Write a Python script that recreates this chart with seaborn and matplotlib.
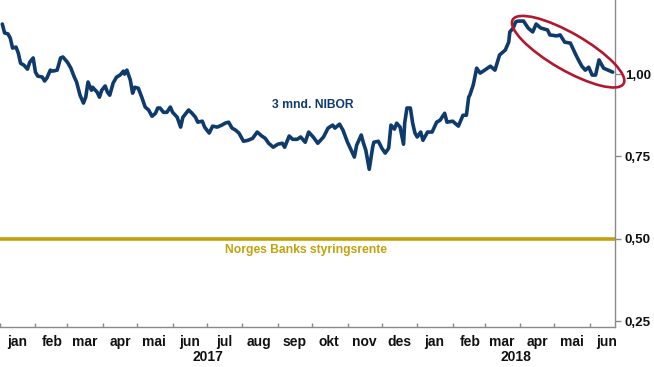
import matplotlib
matplotlib.use("Agg")
import matplotlib.pyplot as plt
import matplotlib.dates as mdates
from matplotlib.patches import Ellipse
from matplotlib.transforms import IdentityTransform, blended_transform_factory
from matplotlib.ticker import FuncFormatter, FixedLocator
import seaborn as sns
import pandas as pd

# ---------------- data ----------------
nibor_dates = [
    "2017-01-03", "2017-01-05", "2017-01-08", "2017-01-10", "2017-01-12", "2017-01-15",
    "2017-01-17", "2017-01-19", "2017-01-22", "2017-01-25", "2017-01-27", "2017-01-30",
    "2017-02-01", "2017-02-03", "2017-02-07", "2017-02-09", "2017-02-11", "2017-02-14",
    "2017-02-16", "2017-02-20", "2017-02-23", "2017-02-25", "2017-03-01", "2017-03-04",
    "2017-03-07", "2017-03-09", "2017-03-12", "2017-03-15", "2017-03-17", "2017-03-19",
    "2017-03-22", "2017-03-23", "2017-03-27", "2017-03-29", "2017-03-31", "2017-04-03",
    "2017-04-05", "2017-04-07", "2017-04-10", "2017-04-13", "2017-04-16", "2017-04-19",
    "2017-04-20", "2017-04-22", "2017-04-25", "2017-04-27", "2017-04-29", "2017-05-02",
    "2017-05-05", "2017-05-08", "2017-05-11", "2017-05-14", "2017-05-17", "2017-05-19",
    "2017-05-21", "2017-05-24", "2017-05-27", "2017-05-30", "2017-06-01", "2017-06-05",
    "2017-06-08", "2017-06-10", "2017-06-15", "2017-06-18", "2017-06-21", "2017-06-23",
    "2017-06-27", "2017-06-29", "2017-07-03", "2017-07-06", "2017-07-10", "2017-07-14",
    "2017-07-17", "2017-07-20", "2017-07-23", "2017-07-26", "2017-07-29", "2017-08-02",
    "2017-08-06", "2017-08-10", "2017-08-14", "2017-08-18", "2017-08-21", "2017-08-24",
    "2017-08-28", "2017-09-01", "2017-09-05", "2017-09-07", "2017-09-11", "2017-09-14",
    "2017-09-18", "2017-09-21", "2017-09-25", "2017-09-28", "2017-10-02", "2017-10-06",
    "2017-10-11", "2017-10-15", "2017-10-19", "2017-10-21", "2017-10-25", "2017-10-28",
    "2017-11-01", "2017-11-03", "2017-11-07", "2017-11-09", "2017-11-13", "2017-11-15",
    "2017-11-17", "2017-11-20", "2017-11-23", "2017-11-24", "2017-11-28", "2017-12-01",
    "2017-12-04", "2017-12-07", "2017-12-09", "2017-12-12", "2017-12-14", "2017-12-17",
    "2017-12-20", "2017-12-21", "2017-12-23", "2017-12-26", "2017-12-28", "2017-12-30",
    "2018-01-01", "2018-01-04", "2018-01-06", "2018-01-10", "2018-01-14", "2018-01-18",
    "2018-01-21", "2018-01-25", "2018-01-27", "2018-02-01", "2018-02-03", "2018-02-06",
    "2018-02-10", "2018-02-13", "2018-02-15", "2018-02-16", "2018-02-19", "2018-02-22",
    "2018-02-25", "2018-03-01", "2018-03-06", "2018-03-10", "2018-03-14", "2018-03-19",
    "2018-03-22", "2018-03-23", "2018-03-26", "2018-03-28", "2018-03-30", "2018-04-04",
    "2018-04-08", "2018-04-12", "2018-04-15", "2018-04-19", "2018-04-25", "2018-04-27",
    "2018-05-03", "2018-05-06", "2018-05-10", "2018-05-15", "2018-05-19", "2018-05-22",
    "2018-05-25", "2018-05-28", "2018-05-31", "2018-06-03", "2018-06-06", "2018-06-09",
    "2018-06-13", "2018-06-17", "2018-06-21",
]
nibor_values = [
    1.152, 1.125, 1.122, 1.109, 1.079, 1.082, 1.064, 1.033, 1.027, 1.015, 1.036, 1.049,
    1.006, 0.994, 0.991, 0.979, 0.988, 1.012, 1.009, 1.012, 1.049, 1.052, 1.036, 1.018,
    0.991, 0.976, 0.936, 0.912, 0.930, 0.976, 0.951, 0.960, 0.945, 0.930, 0.951, 0.964,
    0.945, 0.936, 0.973, 0.991, 0.997, 1.009, 1.000, 1.012, 0.982, 0.942, 0.960, 0.957,
    0.930, 0.900, 0.891, 0.872, 0.881, 0.897, 0.897, 0.884, 0.884, 0.900, 0.884, 0.869,
    0.839, 0.869, 0.891, 0.881, 0.869, 0.854, 0.857, 0.839, 0.821, 0.842, 0.839, 0.845,
    0.851, 0.854, 0.836, 0.830, 0.821, 0.796, 0.799, 0.805, 0.824, 0.812, 0.805, 0.790,
    0.778, 0.787, 0.790, 0.778, 0.812, 0.802, 0.802, 0.809, 0.793, 0.824, 0.809, 0.790,
    0.809, 0.836, 0.845, 0.836, 0.848, 0.830, 0.793, 0.778, 0.748, 0.784, 0.815, 0.790,
    0.769, 0.711, 0.778, 0.793, 0.796, 0.775, 0.760, 0.775, 0.845, 0.833, 0.851, 0.839,
    0.787, 0.851, 0.897, 0.897, 0.851, 0.821, 0.809, 0.824, 0.799, 0.824, 0.824, 0.854,
    0.860, 0.881, 0.854, 0.857, 0.851, 0.842, 0.875, 0.875, 0.930, 0.936, 0.967, 1.018,
    1.003, 1.012, 1.024, 1.012, 1.058, 1.073, 1.097, 1.128, 1.140, 1.158, 1.161, 1.161,
    1.140, 1.128, 1.152, 1.140, 1.134, 1.119, 1.116, 1.119, 1.097, 1.094, 1.064, 1.043,
    1.024, 1.012, 1.021, 0.997, 0.997, 1.043, 1.018, 1.012, 1.006,
]
policy_dates = ["2017-01-01", "2018-06-23"]
policy_values = [0.50, 0.50]

month_labels = ["jan", "feb", "mar", "apr", "mai", "jun",
                "jul", "aug", "sep", "okt", "nov", "des"]
year_labels = ["2017", "2018"]
year_centers = ["2017-07-02", "2018-03-28"]
y_ticks = [0.25, 0.50, 0.75, 1.00, 1.25]

nibor_label = "3 mnd. NIBOR"
policy_label = "Norges Banks styringsrente"

# ---------------- style ----------------
sns.set_theme(style="white")
plt.rcParams["font.family"] = ["Liberation Sans", "DejaVu Sans"]
plt.rcParams["font.weight"] = "bold"

NAVY = "#0e3a6c"
GOLD = "#c3a10d"
RED = "#b3172d"
GREY = "#8a8a8a"

fig = plt.figure(figsize=(6.54, 3.67), dpi=100)
ax = fig.add_axes([0.0, 1 - 327 / 367, 615 / 654, 327 / 367])

nibor = pd.DataFrame({"date": pd.to_datetime(nibor_dates), "value": nibor_values})
policy = pd.DataFrame({"date": pd.to_datetime(policy_dates), "value": policy_values})

sns.lineplot(data=policy, x="date", y="value", ax=ax, color=GOLD, linewidth=2.6)
sns.lineplot(data=nibor, x="date", y="value", ax=ax, color=NAVY, linewidth=2.6)

ax.set_xlabel("")
ax.set_ylabel("")

# spines
for s in ["left", "top"]:
    ax.spines[s].set_visible(False)
for s in ["right", "bottom"]:
    ax.spines[s].set_color(GREY)
    ax.spines[s].set_linewidth(1.0)

# y axis on right
ax.yaxis.tick_right()
ax.yaxis.set_major_locator(FixedLocator(y_ticks))
ax.yaxis.set_major_formatter(FuncFormatter(lambda v, p: f"{v:.2f}".replace(".", ",")))
ax.tick_params(axis="y", which="major", direction="out", length=4, width=1,
               color=GREY, pad=3, labelsize=9.6, labelcolor="#111111", right=True, left=False)

# x axis: month boundaries as ticks, labels mid-month
ax.xaxis.set_major_locator(mdates.MonthLocator())
ax.xaxis.set_major_formatter(plt.NullFormatter())
ax.xaxis.set_minor_locator(mdates.MonthLocator(bymonthday=16))
ax.xaxis.set_minor_formatter(FuncFormatter(
    lambda v, p: month_labels[mdates.num2date(v).month - 1]))
ax.tick_params(axis="x", which="major", direction="in", length=3, width=1, color=GREY,
               bottom=True)
ax.tick_params(axis="x", which="minor", length=0, pad=6, labelsize=10,
               labelcolor="#111111", bottom=True)
for lab in ax.xaxis.get_minorticklabels():
    lab.set_fontweight("bold")
for lab in ax.yaxis.get_majorticklabels():
    lab.set_fontweight("bold")

# limits last so nothing expands them
ax.set_xlim(pd.Timestamp("2017-01-01"), pd.Timestamp("2018-06-23"))
ax.set_ylim(0.232, 1.225)

# year labels
trans = blended_transform_factory(ax.transData, ax.transAxes)
for yl, yc in zip(year_labels, year_centers):
    ax.text(pd.Timestamp(yc), -0.092, yl, transform=trans, ha="center", va="center",
            fontsize=10, fontweight="bold", color="#111111")

# series labels
ax.text(pd.Timestamp("2017-10-02"), 0.906, nibor_label, ha="center", va="center",
        fontsize=8.7, fontweight="bold", color=NAVY)
ax.text(pd.Timestamp("2017-09-26"), 0.465, policy_label, ha="center", va="center",
        fontsize=8.7, fontweight="bold", color=GOLD)

# highlight ellipse (drawn in pixel space around the recent decline)
cx, cy = ax.transData.transform((mdates.date2num(pd.Timestamp("2018-05-13")), 1.068))
ell = Ellipse((cx, cy), 128, 37, angle=-30, transform=IdentityTransform(),
              fill=False, edgecolor=RED, linewidth=1.9, clip_on=False)
fig.patches.append(ell)
ell.set_figure(fig)

fig.savefig("out.png", dpi=100)
